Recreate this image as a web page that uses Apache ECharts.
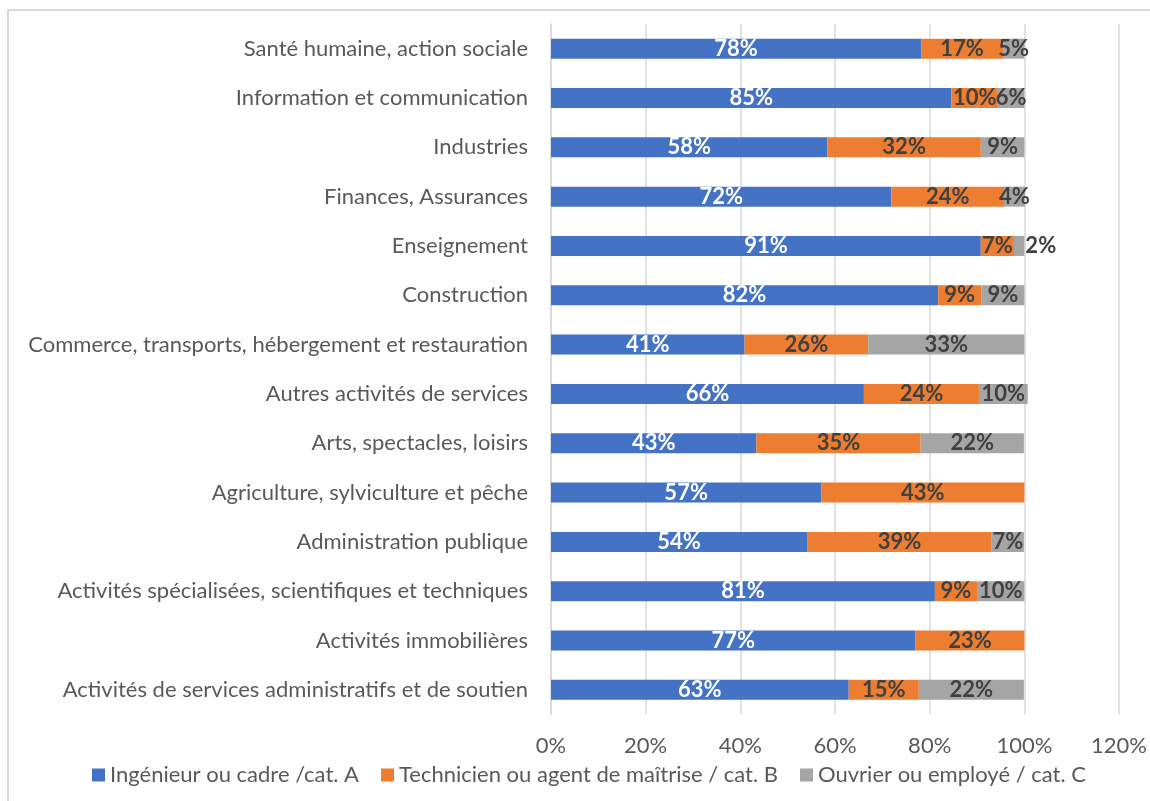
<!DOCTYPE html>
<html>
<head>
<meta charset="utf-8">
<script src="https://cdn.jsdelivr.net/npm/echarts@6/dist/echarts.min.js"></script>
<style>
html,body{margin:0;padding:0;background:#fff;}
#frame{position:absolute;left:7px;top:9px;width:1150px;height:800px;border-top:2px solid #D9D9D9;border-left:2px solid #D9D9D9;}
#chart{position:absolute;left:0;top:0;width:1150px;height:801px;}
</style>
</head>
<body>
<div id="frame"></div>
<div id="chart"></div>
<script>
const categories = [
  'Santé humaine, action sociale',
  'Information et communication',
  'Industries',
  'Finances, Assurances',
  'Enseignement',
  'Construction',
  'Commerce, transports, hébergement et restauration',
  'Autres activités de services',
  'Arts, spectacles, loisirs',
  'Agriculture, sylviculture et pêche',
  'Administration publique',
  'Activités spécialisées, scientifiques et techniques',
  'Activités immobilières',
  'Activités de services administratifs et de soutien'
];
const seriesNames = ['Ingénieur ou cadre /cat. A', 'Technicien ou agent de maîtrise / cat. B', 'Ouvrier ou employé / cat. C'];
const catA = [78.2, 84.6, 58.4, 71.9, 90.8, 81.8, 40.9, 66.1, 43.4, 57.1, 54.1, 81.1, 77.0, 62.9];
const catB = [17.3, 9.8, 32.4, 23.8, 7.0, 9.1, 26.1, 24.3, 34.7, 42.9, 39.0, 8.9, 23.0, 14.8];
const catC = [4.5, 5.6, 9.2, 4.4, 2.2, 9.1, 33.0, 10.3, 21.8, 0, 6.8, 10.0, 0, 22.2];
const colors = ['#4472C4', '#ED7D31', '#A5A5A5'];
const labelColors = ['#FFFFFF', '#404040', '#404040'];

const FONT = 'Lato';
const chart = echarts.init(document.getElementById('chart'), null, {renderer: 'canvas'});

function mkSeries(idx, values) {
  return {
    name: seriesNames[idx],
    type: 'bar',
    stack: 'total',
    barWidth: 20,
    itemStyle: {color: colors[idx]},
    label: {
      show: true,
      position: 'inside',
      color: labelColors[idx],
      fontFamily: FONT,
      fontWeight: 'bold',
      fontSize: 22,
      formatter: p => p.value > 0 ? Math.round(p.value) + '%' : ''
    },
    data: values.map(v => v > 0 && v < 3
      ? {value: v, label: {position: 'right', distance: 1}}
      : v)
  };
}

chart.setOption({
  animation: false,
  grid: {left: 551, right: 29, top: 24, bottom: 86.5, containLabel: false},
  legend: {
    top: 759,
    left: 87,
    itemWidth: 13,
    itemHeight: 13,
    itemGap: 22,
    icon: 'rect',
    textStyle: {color: '#595959', fontSize: 22, fontFamily: FONT},
    data: seriesNames
  },
  xAxis: {
    type: 'value',
    min: 0,
    max: 120,
    interval: 20,
    axisLine: {show: false},
    axisTick: {show: false},
    splitLine: {show: true, lineStyle: {color: '#D9D9D9', width: 1.5}},
    axisLabel: {formatter: '{value}%', color: '#595959', fontSize: 22, fontFamily: FONT, margin: 20}
  },
  yAxis: {
    type: 'category',
    inverse: true,
    data: categories,
    axisLine: {show: true, lineStyle: {color: '#D9D9D9', width: 1.5}},
    axisTick: {show: false},
    axisLabel: {color: '#595959', fontSize: 22, fontFamily: FONT, margin: 23}
  },
  series: [mkSeries(0, catA), mkSeries(1, catB), mkSeries(2, catC)]
});
</script>
</body>
</html>
